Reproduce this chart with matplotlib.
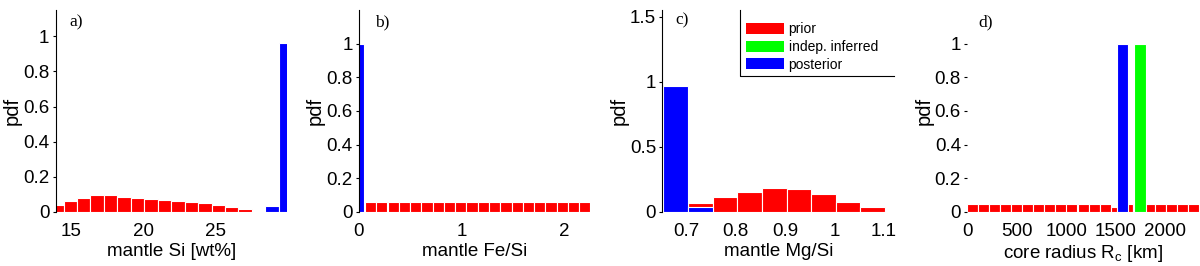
import numpy as np
import matplotlib
matplotlib.use("Agg")
import matplotlib.pyplot as plt
from matplotlib.patches import Patch
from matplotlib.ticker import FormatStrFormatter

plt.rcParams['font.family'] = ['Liberation Sans', 'DejaVu Sans']
plt.rcParams['mathtext.default'] = 'regular'

RED = (1, 0, 0)
GREEN = (0, 1, 0)
BLUE = (0, 0, 1)

# a) mantle Si [wt%]
si_centers = [14.02, 14.95, 15.88, 16.81, 17.74, 18.67, 19.60, 20.53,
              21.46, 22.39, 23.32, 24.25, 25.18, 26.11, 27.04]
si_prior = [0.040, 0.061, 0.078, 0.095, 0.095, 0.085, 0.078, 0.072,
            0.067, 0.061, 0.055, 0.050, 0.040, 0.027, 0.014]
si_post_centers = [28.90, 29.83]
si_post = [0.032, 0.96]
si_width = 0.93

# b) mantle Fe/Si
fesi_centers = [0.115, 0.224, 0.334, 0.443, 0.553, 0.662, 0.772, 0.882, 0.991, 1.101,
                1.210, 1.320, 1.429, 1.539, 1.648, 1.758, 1.867, 1.977, 2.086, 2.196]
fesi_prior = [0.055] * 20
fesi_post_centers = [0.0]
fesi_post = [1.0]
fesi_width = 0.1095

# c) mantle Mg/Si
mgsi_centers = [0.728, 0.778, 0.828, 0.878, 0.928, 0.978, 1.028, 1.078, 1.128]
mgsi_prior = [0.064, 0.110, 0.154, 0.180, 0.172, 0.133, 0.077, 0.033, 0.008]
mgsi_post_centers = [0.678, 0.728]
mgsi_post = [0.967, 0.033]
mgsi_width = 0.05

# d) core radius [km]
rc_centers = [56, 167, 279, 390, 502, 613, 725, 836, 948, 1059, 1171,
              1282, 1394, 1505, 1617, 1728, 1840, 1951, 2063, 2174, 2286]
rc_prior = [0.048, 0.048, 0.048, 0.048, 0.048, 0.048, 0.048, 0.048, 0.048, 0.048, 0.048,
            0.048, 0.048, 0.030, 0.048, 0.048, 0.048, 0.048, 0.048, 0.048, 0.048]
rc_width = 111.5
rc_post_center = [1571]
rc_post = [1.0]
rc_indep_center = [1745]
rc_indep = [1.0]

fig = plt.figure(figsize=(12, 2.66), dpi=100)
lefts = [0.0464, 0.299, 0.552, 0.806]
axes = [fig.add_axes([l, 0.204, 0.193, 0.758]) for l in lefts]


def style(ax, show_left=True):
    for s in ['top', 'right', 'bottom']:
        ax.spines[s].set_visible(False)
    ax.spines['left'].set_visible(show_left)
    ax.spines['left'].set_linewidth(0.8)
    ax.tick_params(axis='y', direction='out', length=2.5, width=0.8, pad=2, labelsize=13.5)
    ax.tick_params(axis='x', length=0, pad=8, labelsize=13.5)
    ax.set_ylabel('pdf', fontsize=14.5, labelpad=1)
    ax.yaxis.set_major_formatter(FormatStrFormatter('%g'))
    ax.xaxis.set_major_formatter(FormatStrFormatter('%g'))


def panel_label(ax, txt, x, y):
    ax.text(x, y, txt, transform=ax.transAxes, fontsize=12.5,
            family=['Liberation Serif', 'DejaVu Serif'], va='center', ha='left')


bar_kw = dict(edgecolor='white', linewidth=0.8)

# a)
ax = axes[0]
ax.bar(si_centers, si_prior, width=si_width, color=RED, **bar_kw)
ax.bar(si_post_centers, si_post, width=si_width, color=BLUE, **bar_kw)
ax.set_xlim(13.94, 29.95)
ax.set_ylim(0, 1.15)
ax.set_xticks([15, 20, 25])
ax.set_yticks([0, 0.2, 0.4, 0.6, 0.8, 1])
style(ax)
ax.set_xlabel('mantle Si [wt%]', fontsize=13.5, labelpad=2)
panel_label(ax, 'a)', 0.06, 0.94)

# b)
ax = axes[1]
ax.bar(fesi_centers, fesi_prior, width=fesi_width, color=RED, **bar_kw)
ax.bar(fesi_post_centers, fesi_post, width=fesi_width, color=BLUE, **bar_kw)
ax.set_xlim(0, 2.25)
ax.set_ylim(0, 1.2)
ax.set_xticks([0, 1, 2])
ax.set_yticks([0, 0.2, 0.4, 0.6, 0.8, 1])
style(ax)
ax.set_xlabel('mantle Fe/Si', fontsize=13.5, labelpad=2)
panel_label(ax, 'b)', 0.07, 0.94)

# c)
ax = axes[2]
ax.bar(mgsi_centers, mgsi_prior, width=mgsi_width, color=RED, **bar_kw)
ax.bar(mgsi_post_centers, mgsi_post, width=mgsi_width, color=BLUE, **bar_kw)
ax.set_xlim(0.651, 1.121)
ax.set_ylim(0, 1.55)
ax.set_xticks([0.7, 0.8, 0.9, 1.0, 1.1])
ax.set_yticks([0, 0.5, 1, 1.5])
style(ax)
ax.set_xlabel('mantle Mg/Si', fontsize=13.5, labelpad=2)
panel_label(ax, 'c)', 0.055, 0.95)
handles = [Patch(facecolor=RED, edgecolor='none'),
           Patch(facecolor=GREEN, edgecolor='none'),
           Patch(facecolor=BLUE, edgecolor='none')]
ax.legend(handles, ['prior', 'indep. inferred', 'posterior'], loc='upper left',
          bbox_to_anchor=(0.35, 0.955), frameon=False, fontsize=10,
          handlelength=2.7, handleheight=0.85, handletextpad=0.35,
          labelspacing=0.28, borderpad=0.2, borderaxespad=0)
ax.plot([0.337, 0.337, 1.0], [1.0, 0.673, 0.673], color='black', lw=0.8,
        transform=ax.transAxes, clip_on=False)

# d)
ax = axes[3]
ax.bar(rc_centers, rc_prior, width=rc_width, color=RED, **bar_kw)
ax.bar(rc_post_center, rc_post, width=110, color=BLUE, **bar_kw)
ax.bar(rc_indep_center, rc_indep, width=115, color=GREEN, **bar_kw)
ax.set_xlim(0, 2341)
ax.set_ylim(0, 1.2)
ax.set_xticks([0, 500, 1000, 1500, 2000])
ax.set_yticks([0, 0.2, 0.4, 0.6, 0.8, 1])
style(ax, show_left=False)
ax.set_xlabel('core radius R$_c$ [km]', fontsize=13.5, labelpad=2)
panel_label(ax, 'd)', 0.05, 0.94)

fig.savefig('out.png', dpi=100)
